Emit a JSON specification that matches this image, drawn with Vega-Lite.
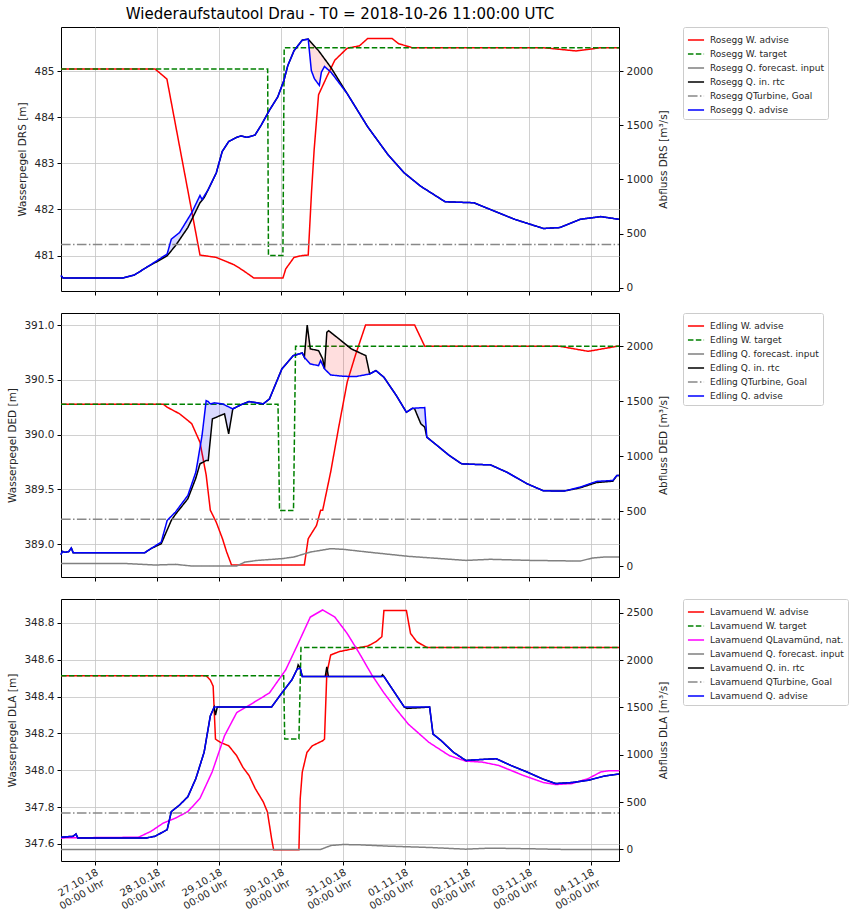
{
"$schema": "https://vega.github.io/schema/vega-lite/v6.json",
"background": "white",
"padding": {"left": 7, "top": 6, "right": 0, "bottom": 0},
"spacing": 16,
"resolve": {"scale": {"x": "independent", "color": "independent", "strokeDash": "independent"}},
"config": {
  "font": "DejaVu Sans",
  "view": {"stroke": "#000000", "strokeWidth": 1},
  "axis": {"domain": false, "tickColor": "#000000", "tickWidth": 1, "tickSize": 4, "gridColor": "#c4c4c4", "gridWidth": 0.8, "labelFont": "DejaVu Sans", "labelFontSize": 10.5, "labelColor": "#262626", "titleFont": "DejaVu Sans", "titleFontSize": 10.5, "titleFontWeight": "normal", "titleColor": "#262626", "labelPadding": 3, "titlePadding": 6, "labelOverlap": false},
  "legend": {"symbolType": "stroke", "symbolStrokeWidth": 1.5, "symbolSize": 260, "labelFont": "DejaVu Sans", "labelFontSize": 9, "labelColor": "#262626", "labelLimit": 300, "labelOffset": 5, "padding": 4, "rowPadding": -1, "strokeColor": "#cccccc", "fillColor": "#ffffff", "cornerRadius": 2, "offset": 13}
},
"datasets": {
"p1": [
{"t":"2018-10-26T11:00Z","s":"Wa","v":485.05},{"t":"2018-10-27T23:24Z","s":"Wa","v":485.05},{"t":"2018-10-28T04:00Z","s":"Wa","v":484.83},{"t":"2018-10-28T16:48Z","s":"Wa","v":481.01},{"t":"2018-10-28T23:00Z","s":"Wa","v":480.96},{"t":"2018-10-29T06:00Z","s":"Wa","v":480.8},{"t":"2018-10-29T09:24Z","s":"Wa","v":480.68},{"t":"2018-10-29T13:42Z","s":"Wa","v":480.51},{"t":"2018-10-30T00:54Z","s":"Wa","v":480.51},{"t":"2018-10-30T02:00Z","s":"Wa","v":480.71},{"t":"2018-10-30T05:12Z","s":"Wa","v":480.96},{"t":"2018-10-30T08:24Z","s":"Wa","v":481.0},{"t":"2018-10-30T10:42Z","s":"Wa","v":481.01},{"t":"2018-10-30T12:00Z","s":"Wa","v":482.4},{"t":"2018-10-30T13:00Z","s":"Wa","v":483.3},{"t":"2018-10-30T14:42Z","s":"Wa","v":484.49},{"t":"2018-10-30T17:54Z","s":"Wa","v":484.88},{"t":"2018-10-30T21:00Z","s":"Wa","v":485.24},{"t":"2018-10-31T01:48Z","s":"Wa","v":485.5},{"t":"2018-10-31T06:30Z","s":"Wa","v":485.55},{"t":"2018-10-31T09:42Z","s":"Wa","v":485.71},{"t":"2018-10-31T19:12Z","s":"Wa","v":485.71},{"t":"2018-10-31T21:36Z","s":"Wa","v":485.6},{"t":"2018-11-01T03:00Z","s":"Wa","v":485.51},{"t":"2018-11-03T05:48Z","s":"Wa","v":485.51},{"t":"2018-11-03T18:24Z","s":"Wa","v":485.44},{"t":"2018-11-04T03:54Z","s":"Wa","v":485.51},{"t":"2018-11-04T11:00Z","s":"Wa","v":485.51},
{"t":"2018-10-26T11:00Z","s":"Wt","v":485.05},{"t":"2018-10-29T19:00Z","s":"Wt","v":485.05},{"t":"2018-10-29T19:18Z","s":"Wt","v":481.0},{"t":"2018-10-30T00:54Z","s":"Wt","v":481.0},{"t":"2018-10-30T01:24Z","s":"Wt","v":485.51},{"t":"2018-11-04T11:00Z","s":"Wt","v":485.51},
{"t":"2018-10-26T11:00Z","s":"Qt","v":400},{"t":"2018-11-04T11:00Z","s":"Qt","v":400},
{"t":"2018-10-26T11:00Z","s":"Qr","v":113},{"t":"2018-10-26T11:48Z","s":"Qr","v":89},{"t":"2018-10-27T10:42Z","s":"Qr","v":89},{"t":"2018-10-27T15:30Z","s":"Qr","v":119},{"t":"2018-10-27T20:12Z","s":"Qr","v":190},{"t":"2018-10-28T00:12Z","s":"Qr","v":242},{"t":"2018-10-28T04:06Z","s":"Qr","v":296},{"t":"2018-10-28T07:18Z","s":"Qr","v":388},{"t":"2018-10-28T12:06Z","s":"Qr","v":556},{"t":"2018-10-28T16:48Z","s":"Qr","v":785},{"t":"2018-10-28T18:24Z","s":"Qr","v":831},{"t":"2018-10-28T20:00Z","s":"Qr","v":907},{"t":"2018-10-28T23:06Z","s":"Qr","v":1060},{"t":"2018-10-29T01:24Z","s":"Qr","v":1258},{"t":"2018-10-29T03:54Z","s":"Qr","v":1350},{"t":"2018-10-29T07:00Z","s":"Qr","v":1389},{"t":"2018-10-29T08:36Z","s":"Qr","v":1402},{"t":"2018-10-29T11:00Z","s":"Qr","v":1389},{"t":"2018-10-29T14:06Z","s":"Qr","v":1410},{"t":"2018-10-29T16:30Z","s":"Qr","v":1502},{"t":"2018-10-29T19:42Z","s":"Qr","v":1640},{"t":"2018-10-29T22:54Z","s":"Qr","v":1762},{"t":"2018-10-30T01:18Z","s":"Qr","v":1915},{"t":"2018-10-30T02:48Z","s":"Qr","v":2052},{"t":"2018-10-30T05:12Z","s":"Qr","v":2189},{"t":"2018-10-30T08:24Z","s":"Qr","v":2287},{"t":"2018-10-30T10:42Z","s":"Qr","v":2296},{"t":"2018-10-30T14:42Z","s":"Qr","v":2189},{"t":"2018-10-30T19:24Z","s":"Qr","v":2037},{"t":"2018-10-31T00:12Z","s":"Qr","v":1853},{"t":"2018-10-31T01:48Z","s":"Qr","v":1792},{"t":"2018-10-31T09:42Z","s":"Qr","v":1487},{"t":"2018-10-31T17:36Z","s":"Qr","v":1228},{"t":"2018-10-31T23:54Z","s":"Qr","v":1060},{"t":"2018-11-01T06:12Z","s":"Qr","v":938},{"t":"2018-11-01T15:42Z","s":"Qr","v":794},{"t":"2018-11-02T02:48Z","s":"Qr","v":785},{"t":"2018-11-02T09:06Z","s":"Qr","v":724},{"t":"2018-11-02T18:36Z","s":"Qr","v":632},{"t":"2018-11-03T05:48Z","s":"Qr","v":547},{"t":"2018-11-03T12:06Z","s":"Qr","v":556},{"t":"2018-11-03T20:00Z","s":"Qr","v":632},{"t":"2018-11-04T03:54Z","s":"Qr","v":657},{"t":"2018-11-04T11:00Z","s":"Qr","v":632},
{"t":"2018-10-26T11:00Z","s":"Qa","v":113},{"t":"2018-10-26T11:48Z","s":"Qa","v":89},{"t":"2018-10-27T10:42Z","s":"Qa","v":89},{"t":"2018-10-27T15:30Z","s":"Qa","v":119},{"t":"2018-10-27T20:12Z","s":"Qa","v":190},{"t":"2018-10-28T00:12Z","s":"Qa","v":251},{"t":"2018-10-28T04:06Z","s":"Qa","v":312},{"t":"2018-10-28T05:42Z","s":"Qa","v":449},{"t":"2018-10-28T08:54Z","s":"Qa","v":510},{"t":"2018-10-28T13:36Z","s":"Qa","v":693},{"t":"2018-10-28T16:48Z","s":"Qa","v":852},{"t":"2018-10-28T17:36Z","s":"Qa","v":815},{"t":"2018-10-28T20:00Z","s":"Qa","v":907},{"t":"2018-10-28T23:06Z","s":"Qa","v":1060},{"t":"2018-10-29T01:24Z","s":"Qa","v":1258},{"t":"2018-10-29T03:54Z","s":"Qa","v":1350},{"t":"2018-10-29T07:00Z","s":"Qa","v":1389},{"t":"2018-10-29T08:36Z","s":"Qa","v":1402},{"t":"2018-10-29T11:00Z","s":"Qa","v":1389},{"t":"2018-10-29T14:06Z","s":"Qa","v":1410},{"t":"2018-10-29T16:30Z","s":"Qa","v":1502},{"t":"2018-10-29T19:42Z","s":"Qa","v":1640},{"t":"2018-10-29T22:54Z","s":"Qa","v":1762},{"t":"2018-10-30T01:18Z","s":"Qa","v":1915},{"t":"2018-10-30T02:48Z","s":"Qa","v":2052},{"t":"2018-10-30T05:12Z","s":"Qa","v":2189},{"t":"2018-10-30T08:24Z","s":"Qa","v":2287},{"t":"2018-10-30T10:42Z","s":"Qa","v":2296},{"t":"2018-10-30T11:54Z","s":"Qa","v":2006},{"t":"2018-10-30T13:06Z","s":"Qa","v":1930},{"t":"2018-10-30T15:00Z","s":"Qa","v":1869},{"t":"2018-10-30T15:48Z","s":"Qa","v":1991},{"t":"2018-10-30T17:00Z","s":"Qa","v":2043},{"t":"2018-10-30T19:30Z","s":"Qa","v":1991},{"t":"2018-10-31T01:48Z","s":"Qa","v":1792},{"t":"2018-10-31T09:42Z","s":"Qa","v":1487},{"t":"2018-10-31T17:36Z","s":"Qa","v":1228},{"t":"2018-10-31T23:54Z","s":"Qa","v":1060},{"t":"2018-11-01T06:12Z","s":"Qa","v":938},{"t":"2018-11-01T15:42Z","s":"Qa","v":794},{"t":"2018-11-02T02:48Z","s":"Qa","v":785},{"t":"2018-11-02T09:06Z","s":"Qa","v":724},{"t":"2018-11-02T18:36Z","s":"Qa","v":632},{"t":"2018-11-03T05:48Z","s":"Qa","v":547},{"t":"2018-11-03T12:06Z","s":"Qa","v":556},{"t":"2018-11-03T20:00Z","s":"Qa","v":632},{"t":"2018-11-04T03:54Z","s":"Qa","v":657},{"t":"2018-11-04T11:00Z","s":"Qa","v":632}
],
"f1": [
{"k":"b","t":"2018-10-28T00:12Z","a":242,"b":251},{"k":"b","t":"2018-10-28T04:06Z","a":296,"b":312},{"k":"b","t":"2018-10-28T05:42Z","a":342,"b":449},{"k":"b","t":"2018-10-28T07:18Z","a":388,"b":480},{"k":"b","t":"2018-10-28T08:54Z","a":444,"b":510},{"k":"b","t":"2018-10-28T12:06Z","a":556,"b":635},{"k":"b","t":"2018-10-28T13:36Z","a":629,"b":693},{"k":"b","t":"2018-10-28T16:48Z","a":785,"b":852},{"k":"b","t":"2018-10-28T17:36Z","a":808,"b":815},{"k":"b","t":"2018-10-28T18:24Z","a":831,"b":846},{"k":"b","t":"2018-10-28T20:00Z","a":907,"b":907},
{"k":"p","t":"2018-10-30T10:42Z","a":2296,"b":2296},{"k":"p","t":"2018-10-30T11:54Z","a":2264,"b":2006},{"k":"p","t":"2018-10-30T13:06Z","a":2232,"b":1930},{"k":"p","t":"2018-10-30T14:42Z","a":2189,"b":1879},{"k":"p","t":"2018-10-30T15:00Z","a":2180,"b":1869},{"k":"p","t":"2018-10-30T15:48Z","a":2153,"b":1991},{"k":"p","t":"2018-10-30T17:00Z","a":2115,"b":2043},{"k":"p","t":"2018-10-30T19:24Z","a":2037,"b":1994},{"k":"p","t":"2018-10-30T22:00Z","a":1937,"b":1912},{"k":"p","t":"2018-10-31T00:12Z","a":1853,"b":1843},{"k":"p","t":"2018-10-31T01:48Z","a":1792,"b":1792}
],
"p2": [
{"t":"2018-10-26T11:00Z","s":"Wa","v":390.278},{"t":"2018-10-28T02:36Z","s":"Wa","v":390.278},{"t":"2018-10-28T04:06Z","s":"Wa","v":390.25},{"t":"2018-10-28T08:54Z","s":"Wa","v":390.19},{"t":"2018-10-28T13:36Z","s":"Wa","v":390.1},{"t":"2018-10-28T16:48Z","s":"Wa","v":389.93},{"t":"2018-10-28T19:12Z","s":"Wa","v":389.63},{"t":"2018-10-28T20:48Z","s":"Wa","v":389.31},{"t":"2018-10-28T23:06Z","s":"Wa","v":389.2},{"t":"2018-10-29T01:30Z","s":"Wa","v":389.05},{"t":"2018-10-29T03:06Z","s":"Wa","v":388.93},{"t":"2018-10-29T05:00Z","s":"Wa","v":388.81},{"t":"2018-10-30T09:12Z","s":"Wa","v":388.81},{"t":"2018-10-30T10:42Z","s":"Wa","v":389.05},{"t":"2018-10-30T13:54Z","s":"Wa","v":389.17},{"t":"2018-10-30T15:30Z","s":"Wa","v":389.31},{"t":"2018-10-30T16:18Z","s":"Wa","v":389.31},{"t":"2018-10-30T19:24Z","s":"Wa","v":389.66},{"t":"2018-10-30T22:36Z","s":"Wa","v":390.08},{"t":"2018-10-31T01:48Z","s":"Wa","v":390.48},{"t":"2018-10-31T04:54Z","s":"Wa","v":390.72},{"t":"2018-10-31T08:54Z","s":"Wa","v":391.0},{"t":"2018-11-01T03:54Z","s":"Wa","v":391.0},{"t":"2018-11-01T07:48Z","s":"Wa","v":390.806},{"t":"2018-11-03T12:06Z","s":"Wa","v":390.806},{"t":"2018-11-03T23:06Z","s":"Wa","v":390.76},{"t":"2018-11-04T10:12Z","s":"Wa","v":390.806},{"t":"2018-11-04T11:00Z","s":"Wa","v":390.806},
{"t":"2018-10-26T11:00Z","s":"Wt","v":390.278},{"t":"2018-10-29T23:00Z","s":"Wt","v":390.278},{"t":"2018-10-29T23:36Z","s":"Wt","v":389.307},{"t":"2018-10-30T05:00Z","s":"Wt","v":389.307},{"t":"2018-10-30T05:48Z","s":"Wt","v":390.806},{"t":"2018-11-04T11:00Z","s":"Wt","v":390.806},
{"t":"2018-10-26T11:00Z","s":"Qf","v":24},{"t":"2018-10-27T10:42Z","s":"Qf","v":24},{"t":"2018-10-27T23:24Z","s":"Qf","v":9},{"t":"2018-10-28T07:18Z","s":"Qf","v":15},{"t":"2018-10-28T13:36Z","s":"Qf","v":0},{"t":"2018-10-29T07:00Z","s":"Qf","v":0},{"t":"2018-10-29T10:12Z","s":"Qf","v":36},{"t":"2018-10-29T15:00Z","s":"Qf","v":51},{"t":"2018-10-30T00:30Z","s":"Qf","v":67},{"t":"2018-10-30T05:12Z","s":"Qf","v":82},{"t":"2018-10-30T11:30Z","s":"Qf","v":127},{"t":"2018-10-30T19:24Z","s":"Qf","v":158},{"t":"2018-10-31T00:12Z","s":"Qf","v":152},{"t":"2018-10-31T09:42Z","s":"Qf","v":127},{"t":"2018-11-01T01:30Z","s":"Qf","v":88},{"t":"2018-11-01T14:12Z","s":"Qf","v":67},{"t":"2018-11-01T23:42Z","s":"Qf","v":51},{"t":"2018-11-02T09:12Z","s":"Qf","v":61},{"t":"2018-11-03T01:00Z","s":"Qf","v":51},{"t":"2018-11-03T20:00Z","s":"Qf","v":45},{"t":"2018-11-04T00:42Z","s":"Qf","v":73},{"t":"2018-11-04T05:30Z","s":"Qf","v":82},{"t":"2018-11-04T11:00Z","s":"Qf","v":82},
{"t":"2018-10-26T11:00Z","s":"Qt","v":425},{"t":"2018-11-04T11:00Z","s":"Qt","v":425},
{"t":"2018-10-26T11:00Z","s":"Qr","v":103},{"t":"2018-10-26T11:30Z","s":"Qr","v":133},{"t":"2018-10-26T12:30Z","s":"Qr","v":125},{"t":"2018-10-26T14:00Z","s":"Qr","v":131},{"t":"2018-10-26T15:00Z","s":"Qr","v":164},{"t":"2018-10-26T15:42Z","s":"Qr","v":121},{"t":"2018-10-27T19:24Z","s":"Qr","v":121},{"t":"2018-10-27T21:48Z","s":"Qr","v":158},{"t":"2018-10-28T01:48Z","s":"Qr","v":203},{"t":"2018-10-28T05:42Z","s":"Qr","v":415},{"t":"2018-10-28T07:18Z","s":"Qr","v":470},{"t":"2018-10-28T12:06Z","s":"Qr","v":612},{"t":"2018-10-28T15:12Z","s":"Qr","v":800},{"t":"2018-10-28T16:48Z","s":"Qr","v":930},{"t":"2018-10-28T19:12Z","s":"Qr","v":961},{"t":"2018-10-28T20:00Z","s":"Qr","v":961},{"t":"2018-10-28T21:36Z","s":"Qr","v":1339},{"t":"2018-10-29T00:42Z","s":"Qr","v":1370},{"t":"2018-10-29T02:18Z","s":"Qr","v":1385},{"t":"2018-10-29T03:54Z","s":"Qr","v":1203},{"t":"2018-10-29T05:30Z","s":"Qr","v":1430},{"t":"2018-10-29T08:36Z","s":"Qr","v":1467},{"t":"2018-10-29T11:48Z","s":"Qr","v":1497},{"t":"2018-10-29T17:18Z","s":"Qr","v":1476},{"t":"2018-10-29T19:42Z","s":"Qr","v":1521},{"t":"2018-10-30T00:30Z","s":"Qr","v":1794},{"t":"2018-10-30T04:54Z","s":"Qr","v":1915},{"t":"2018-10-30T08:24Z","s":"Qr","v":1939},{"t":"2018-10-30T09:12Z","s":"Qr","v":1900},{"t":"2018-10-30T10:18Z","s":"Qr","v":2194},{"t":"2018-10-30T11:30Z","s":"Qr","v":1976},{"t":"2018-10-30T14:42Z","s":"Qr","v":1961},{"t":"2018-10-30T16:18Z","s":"Qr","v":1885},{"t":"2018-10-30T17:00Z","s":"Qr","v":1794},{"t":"2018-10-30T17:54Z","s":"Qr","v":2127},{"t":"2018-10-30T18:36Z","s":"Qr","v":2142},{"t":"2018-10-30T22:36Z","s":"Qr","v":2067},{"t":"2018-10-31T03:24Z","s":"Qr","v":1976},{"t":"2018-10-31T09:00Z","s":"Qr","v":1915},{"t":"2018-10-31T10:30Z","s":"Qr","v":1748},{"t":"2018-10-31T12:54Z","s":"Qr","v":1779},{"t":"2018-10-31T16:00Z","s":"Qr","v":1718},{"t":"2018-10-31T20:48Z","s":"Qr","v":1552},{"t":"2018-11-01T00:42Z","s":"Qr","v":1400},{"t":"2018-11-01T03:06Z","s":"Qr","v":1436},{"t":"2018-11-01T03:54Z","s":"Qr","v":1430},{"t":"2018-11-01T06:18Z","s":"Qr","v":1294},{"t":"2018-11-01T07:48Z","s":"Qr","v":1264},{"t":"2018-11-01T08:36Z","s":"Qr","v":1173},{"t":"2018-11-01T12:36Z","s":"Qr","v":1097},{"t":"2018-11-01T17:18Z","s":"Qr","v":1006},{"t":"2018-11-01T22:06Z","s":"Qr","v":930},{"t":"2018-11-02T04:24Z","s":"Qr","v":924},{"t":"2018-11-02T09:12Z","s":"Qr","v":921},{"t":"2018-11-02T15:30Z","s":"Qr","v":855},{"t":"2018-11-02T23:24Z","s":"Qr","v":749},{"t":"2018-11-03T05:42Z","s":"Qr","v":685},{"t":"2018-11-03T13:42Z","s":"Qr","v":682},{"t":"2018-11-03T20:00Z","s":"Qr","v":712},{"t":"2018-11-04T02:18Z","s":"Qr","v":760},{"t":"2018-11-04T08:36Z","s":"Qr","v":772},{"t":"2018-11-04T10:12Z","s":"Qr","v":824},{"t":"2018-11-04T11:00Z","s":"Qr","v":824},
{"t":"2018-10-26T11:00Z","s":"Qa","v":103},{"t":"2018-10-26T11:30Z","s":"Qa","v":133},{"t":"2018-10-26T12:30Z","s":"Qa","v":125},{"t":"2018-10-26T14:00Z","s":"Qa","v":131},{"t":"2018-10-26T15:00Z","s":"Qa","v":164},{"t":"2018-10-26T15:42Z","s":"Qa","v":121},{"t":"2018-10-27T19:24Z","s":"Qa","v":121},{"t":"2018-10-27T21:48Z","s":"Qa","v":158},{"t":"2018-10-28T01:48Z","s":"Qa","v":218},{"t":"2018-10-28T04:06Z","s":"Qa","v":415},{"t":"2018-10-28T07:18Z","s":"Qa","v":491},{"t":"2018-10-28T12:06Z","s":"Qa","v":642},{"t":"2018-10-28T15:12Z","s":"Qa","v":855},{"t":"2018-10-28T17:36Z","s":"Qa","v":1188},{"t":"2018-10-28T19:12Z","s":"Qa","v":1506},{"t":"2018-10-28T20:00Z","s":"Qa","v":1497},{"t":"2018-10-28T20:48Z","s":"Qa","v":1476},{"t":"2018-10-28T22:18Z","s":"Qa","v":1485},{"t":"2018-10-29T01:30Z","s":"Qa","v":1476},{"t":"2018-10-29T05:30Z","s":"Qa","v":1430},{"t":"2018-10-29T08:36Z","s":"Qa","v":1467},{"t":"2018-10-29T11:48Z","s":"Qa","v":1497},{"t":"2018-10-29T17:18Z","s":"Qa","v":1476},{"t":"2018-10-29T19:42Z","s":"Qa","v":1521},{"t":"2018-10-30T00:30Z","s":"Qa","v":1794},{"t":"2018-10-30T04:54Z","s":"Qa","v":1915},{"t":"2018-10-30T08:24Z","s":"Qa","v":1939},{"t":"2018-10-30T09:12Z","s":"Qa","v":1900},{"t":"2018-10-30T11:30Z","s":"Qa","v":1839},{"t":"2018-10-30T14:42Z","s":"Qa","v":1824},{"t":"2018-10-30T15:30Z","s":"Qa","v":1870},{"t":"2018-10-30T17:00Z","s":"Qa","v":1794},{"t":"2018-10-30T19:24Z","s":"Qa","v":1739},{"t":"2018-10-31T00:12Z","s":"Qa","v":1727},{"t":"2018-10-31T05:00Z","s":"Qa","v":1724},{"t":"2018-10-31T10:30Z","s":"Qa","v":1748},{"t":"2018-10-31T12:54Z","s":"Qa","v":1779},{"t":"2018-10-31T16:00Z","s":"Qa","v":1718},{"t":"2018-10-31T20:48Z","s":"Qa","v":1552},{"t":"2018-11-01T00:42Z","s":"Qa","v":1400},{"t":"2018-11-01T03:06Z","s":"Qa","v":1436},{"t":"2018-11-01T07:48Z","s":"Qa","v":1442},{"t":"2018-11-01T08:36Z","s":"Qa","v":1173},{"t":"2018-11-01T12:36Z","s":"Qa","v":1097},{"t":"2018-11-01T17:18Z","s":"Qa","v":1006},{"t":"2018-11-01T22:06Z","s":"Qa","v":930},{"t":"2018-11-02T04:24Z","s":"Qa","v":924},{"t":"2018-11-02T09:12Z","s":"Qa","v":921},{"t":"2018-11-02T15:30Z","s":"Qa","v":855},{"t":"2018-11-02T23:24Z","s":"Qa","v":749},{"t":"2018-11-03T05:42Z","s":"Qa","v":685},{"t":"2018-11-03T13:42Z","s":"Qa","v":682},{"t":"2018-11-03T20:00Z","s":"Qa","v":718},{"t":"2018-11-04T02:18Z","s":"Qa","v":770},{"t":"2018-11-04T08:36Z","s":"Qa","v":779},{"t":"2018-11-04T10:12Z","s":"Qa","v":824},{"t":"2018-11-04T11:00Z","s":"Qa","v":824}
],
"f2": [
{"k":"b","t":"2018-10-28T12:06Z","a":612,"b":642},{"k":"b","t":"2018-10-28T15:12Z","a":800,"b":855},{"k":"b","t":"2018-10-28T16:48Z","a":930,"b":1077},{"k":"b","t":"2018-10-28T17:36Z","a":945,"b":1188},{"k":"b","t":"2018-10-28T19:12Z","a":961,"b":1506},{"k":"b","t":"2018-10-28T20:00Z","a":961,"b":1497},{"k":"b","t":"2018-10-28T20:48Z","a":1150,"b":1476},{"k":"b","t":"2018-10-28T21:36Z","a":1339,"b":1480},{"k":"b","t":"2018-10-29T00:42Z","a":1370,"b":1478},{"k":"b","t":"2018-10-29T02:18Z","a":1385,"b":1467},{"k":"b","t":"2018-10-29T03:54Z","a":1203,"b":1448},{"k":"b","t":"2018-10-29T05:30Z","a":1430,"b":1430},
{"k":"c","t":"2018-11-01T03:06Z","a":1436,"b":1436},{"k":"c","t":"2018-11-01T03:54Z","a":1430,"b":1437},{"k":"c","t":"2018-11-01T06:18Z","a":1294,"b":1440},{"k":"c","t":"2018-11-01T07:48Z","a":1264,"b":1442},{"k":"c","t":"2018-11-01T08:36Z","a":1173,"b":1173},
{"k":"p","t":"2018-10-30T09:12Z","a":1900,"b":1900},{"k":"p","t":"2018-10-30T10:18Z","a":2194,"b":1871},{"k":"p","t":"2018-10-30T11:30Z","a":1976,"b":1839},{"k":"p","t":"2018-10-30T14:42Z","a":1961,"b":1824},{"k":"p","t":"2018-10-30T15:30Z","a":1923,"b":1870},{"k":"p","t":"2018-10-30T16:18Z","a":1885,"b":1829},{"k":"p","t":"2018-10-30T17:00Z","a":1794,"b":1794},{"k":"p","t":"2018-10-30T17:54Z","a":2127,"b":1773},{"k":"p","t":"2018-10-30T18:36Z","a":2142,"b":1757},{"k":"p","t":"2018-10-30T19:24Z","a":2127,"b":1739},{"k":"p","t":"2018-10-30T22:36Z","a":2067,"b":1731},{"k":"p","t":"2018-10-31T03:24Z","a":1976,"b":1725},{"k":"p","t":"2018-10-31T09:00Z","a":1915,"b":1741},{"k":"p","t":"2018-10-31T10:30Z","a":1748,"b":1748}
],
"p3": [
{"t":"2018-10-26T11:00Z","s":"Wa","v":348.513},{"t":"2018-10-28T19:12Z","s":"Wa","v":348.513},{"t":"2018-10-28T20:48Z","s":"Wa","v":348.49},{"t":"2018-10-28T21:54Z","s":"Wa","v":348.456},{"t":"2018-10-28T22:48Z","s":"Wa","v":348.169},{"t":"2018-10-29T00:42Z","s":"Wa","v":348.151},{"t":"2018-10-29T03:54Z","s":"Wa","v":348.133},{"t":"2018-10-29T07:00Z","s":"Wa","v":348.079},{"t":"2018-10-29T09:24Z","s":"Wa","v":348.016},{"t":"2018-10-29T11:48Z","s":"Wa","v":347.971},{"t":"2018-10-29T14:12Z","s":"Wa","v":347.9},{"t":"2018-10-29T17:18Z","s":"Wa","v":347.828},{"t":"2018-10-29T18:54Z","s":"Wa","v":347.774},{"t":"2018-10-29T20:30Z","s":"Wa","v":347.63},{"t":"2018-10-29T21:18Z","s":"Wa","v":347.568},{"t":"2018-10-30T07:06Z","s":"Wa","v":347.568},{"t":"2018-10-30T07:36Z","s":"Wa","v":347.846},{"t":"2018-10-30T08:24Z","s":"Wa","v":347.99},{"t":"2018-10-30T10:12Z","s":"Wa","v":348.097},{"t":"2018-10-30T12:18Z","s":"Wa","v":348.133},{"t":"2018-10-30T16:18Z","s":"Wa","v":348.16},{"t":"2018-10-30T17:00Z","s":"Wa","v":348.169},{"t":"2018-10-30T17:54Z","s":"Wa","v":348.527},{"t":"2018-10-30T19:24Z","s":"Wa","v":348.626},{"t":"2018-10-30T22:36Z","s":"Wa","v":348.644},{"t":"2018-10-31T04:54Z","s":"Wa","v":348.662},{"t":"2018-10-31T09:42Z","s":"Wa","v":348.674},{"t":"2018-10-31T12:54Z","s":"Wa","v":348.698},{"t":"2018-10-31T15:12Z","s":"Wa","v":348.725},{"t":"2018-10-31T16:00Z","s":"Wa","v":348.868},{"t":"2018-11-01T00:42Z","s":"Wa","v":348.868},{"t":"2018-11-01T02:18Z","s":"Wa","v":348.743},{"t":"2018-11-01T04:42Z","s":"Wa","v":348.698},{"t":"2018-11-01T08:36Z","s":"Wa","v":348.667},{"t":"2018-11-04T11:00Z","s":"Wa","v":348.667},
{"t":"2018-10-26T11:00Z","s":"Wt","v":348.513},{"t":"2018-10-30T01:12Z","s":"Wt","v":348.513},{"t":"2018-10-30T01:36Z","s":"Wt","v":348.169},{"t":"2018-10-30T07:06Z","s":"Wt","v":348.169},{"t":"2018-10-30T07:54Z","s":"Wt","v":348.667},{"t":"2018-11-04T11:00Z","s":"Wt","v":348.667},
{"t":"2018-10-26T11:00Z","s":"Qn","v":122},{"t":"2018-10-27T17:00Z","s":"Qn","v":129},{"t":"2018-10-27T21:48Z","s":"Qn","v":191},{"t":"2018-10-28T02:36Z","s":"Qn","v":279},{"t":"2018-10-28T07:18Z","s":"Qn","v":331},{"t":"2018-10-28T12:06Z","s":"Qn","v":400},{"t":"2018-10-28T16:48Z","s":"Qn","v":540},{"t":"2018-10-28T21:30Z","s":"Qn","v":818},{"t":"2018-10-29T02:18Z","s":"Qn","v":1201},{"t":"2018-10-29T07:00Z","s":"Qn","v":1445},{"t":"2018-10-29T13:24Z","s":"Qn","v":1549},{"t":"2018-10-29T19:42Z","s":"Qn","v":1654},{"t":"2018-10-30T02:00Z","s":"Qn","v":1898},{"t":"2018-10-30T06:48Z","s":"Qn","v":2176},{"t":"2018-10-30T11:30Z","s":"Qn","v":2455},{"t":"2018-10-30T16:18Z","s":"Qn","v":2531},{"t":"2018-10-30T21:00Z","s":"Qn","v":2455},{"t":"2018-10-31T01:48Z","s":"Qn","v":2281},{"t":"2018-10-31T06:30Z","s":"Qn","v":2072},{"t":"2018-10-31T11:18Z","s":"Qn","v":1845},{"t":"2018-10-31T16:00Z","s":"Qn","v":1654},{"t":"2018-10-31T20:48Z","s":"Qn","v":1480},{"t":"2018-11-01T01:30Z","s":"Qn","v":1323},{"t":"2018-11-01T09:24Z","s":"Qn","v":1132},{"t":"2018-11-01T17:18Z","s":"Qn","v":992},{"t":"2018-11-01T23:42Z","s":"Qn","v":933},{"t":"2018-11-02T06:00Z","s":"Qn","v":923},{"t":"2018-11-02T12:24Z","s":"Qn","v":888},{"t":"2018-11-02T21:54Z","s":"Qn","v":783},{"t":"2018-11-03T05:42Z","s":"Qn","v":707},{"t":"2018-11-03T10:30Z","s":"Qn","v":686},{"t":"2018-11-03T16:48Z","s":"Qn","v":696},{"t":"2018-11-03T23:06Z","s":"Qn","v":749},{"t":"2018-11-04T03:54Z","s":"Qn","v":818},{"t":"2018-11-04T07:00Z","s":"Qn","v":832},{"t":"2018-11-04T11:00Z","s":"Qn","v":832},
{"t":"2018-10-26T11:00Z","s":"Qf","v":0},{"t":"2018-10-30T15:30Z","s":"Qf","v":0},{"t":"2018-10-30T19:30Z","s":"Qf","v":42},{"t":"2018-10-31T00:12Z","s":"Qf","v":52},{"t":"2018-10-31T06:30Z","s":"Qf","v":49},{"t":"2018-10-31T17:36Z","s":"Qf","v":35},{"t":"2018-11-01T09:24Z","s":"Qf","v":21},{"t":"2018-11-01T23:42Z","s":"Qf","v":3},{"t":"2018-11-02T09:12Z","s":"Qf","v":14},{"t":"2018-11-03T01:00Z","s":"Qf","v":7},{"t":"2018-11-03T13:42Z","s":"Qf","v":0},{"t":"2018-11-04T11:00Z","s":"Qf","v":0},
{"t":"2018-10-26T11:00Z","s":"Qt","v":385},{"t":"2018-11-04T11:00Z","s":"Qt","v":385},
{"t":"2018-10-26T11:00Z","s":"Qr","v":129},{"t":"2018-10-26T15:42Z","s":"Qr","v":139},{"t":"2018-10-26T16:48Z","s":"Qr","v":164},{"t":"2018-10-26T17:30Z","s":"Qr","v":122},{"t":"2018-10-27T20:12Z","s":"Qr","v":122},{"t":"2018-10-27T23:24Z","s":"Qr","v":139},{"t":"2018-10-28T04:06Z","s":"Qr","v":209},{"t":"2018-10-28T05:42Z","s":"Qr","v":400},{"t":"2018-10-28T08:54Z","s":"Qr","v":470},{"t":"2018-10-28T12:06Z","s":"Qr","v":557},{"t":"2018-10-28T15:12Z","s":"Qr","v":749},{"t":"2018-10-28T18:24Z","s":"Qr","v":1027},{"t":"2018-10-28T20:48Z","s":"Qr","v":1410},{"t":"2018-10-28T22:18Z","s":"Qr","v":1504},{"t":"2018-10-28T22:48Z","s":"Qr","v":1420},{"t":"2018-10-28T23:30Z","s":"Qr","v":1504},{"t":"2018-10-29T20:30Z","s":"Qr","v":1504},{"t":"2018-10-30T00:30Z","s":"Qr","v":1654},{"t":"2018-10-30T04:24Z","s":"Qr","v":1793},{"t":"2018-10-30T06:24Z","s":"Qr","v":1905},{"t":"2018-10-30T06:48Z","s":"Qr","v":1950},{"t":"2018-10-30T07:36Z","s":"Qr","v":1915},{"t":"2018-10-30T08:24Z","s":"Qr","v":1828},{"t":"2018-10-30T17:18Z","s":"Qr","v":1828},{"t":"2018-10-30T17:54Z","s":"Qr","v":1930},{"t":"2018-10-30T18:30Z","s":"Qr","v":1828},{"t":"2018-10-31T15:00Z","s":"Qr","v":1828},{"t":"2018-10-31T15:30Z","s":"Qr","v":1845},{"t":"2018-10-31T16:00Z","s":"Qr","v":1828},{"t":"2018-10-31T23:54Z","s":"Qr","v":1504},{"t":"2018-11-01T01:00Z","s":"Qr","v":1490},{"t":"2018-11-01T09:42Z","s":"Qr","v":1504},{"t":"2018-11-01T11:00Z","s":"Qr","v":1219},{"t":"2018-11-01T14:12Z","s":"Qr","v":1149},{"t":"2018-11-01T18:54Z","s":"Qr","v":1027},{"t":"2018-11-01T23:42Z","s":"Qr","v":940},{"t":"2018-11-02T06:00Z","s":"Qr","v":951},{"t":"2018-11-02T11:30Z","s":"Qr","v":958},{"t":"2018-11-02T17:06Z","s":"Qr","v":888},{"t":"2018-11-02T23:24Z","s":"Qr","v":818},{"t":"2018-11-03T05:42Z","s":"Qr","v":742},{"t":"2018-11-03T10:30Z","s":"Qr","v":696},{"t":"2018-11-03T16:48Z","s":"Qr","v":707},{"t":"2018-11-03T23:06Z","s":"Qr","v":731},{"t":"2018-11-04T05:24Z","s":"Qr","v":776},{"t":"2018-11-04T11:00Z","s":"Qr","v":797},
{"t":"2018-10-26T11:00Z","s":"Qa","v":129},{"t":"2018-10-26T15:42Z","s":"Qa","v":139},{"t":"2018-10-26T16:48Z","s":"Qa","v":164},{"t":"2018-10-26T17:30Z","s":"Qa","v":122},{"t":"2018-10-27T20:12Z","s":"Qa","v":122},{"t":"2018-10-27T23:24Z","s":"Qa","v":139},{"t":"2018-10-28T04:06Z","s":"Qa","v":209},{"t":"2018-10-28T05:42Z","s":"Qa","v":400},{"t":"2018-10-28T08:54Z","s":"Qa","v":470},{"t":"2018-10-28T12:06Z","s":"Qa","v":557},{"t":"2018-10-28T15:12Z","s":"Qa","v":749},{"t":"2018-10-28T18:24Z","s":"Qa","v":1027},{"t":"2018-10-28T20:48Z","s":"Qa","v":1410},{"t":"2018-10-28T22:18Z","s":"Qa","v":1504},{"t":"2018-10-29T20:30Z","s":"Qa","v":1504},{"t":"2018-10-30T00:30Z","s":"Qa","v":1654},{"t":"2018-10-30T04:24Z","s":"Qa","v":1793},{"t":"2018-10-30T06:24Z","s":"Qa","v":1905},{"t":"2018-10-30T07:36Z","s":"Qa","v":1915},{"t":"2018-10-30T08:24Z","s":"Qa","v":1828},{"t":"2018-10-31T16:00Z","s":"Qa","v":1828},{"t":"2018-10-31T23:54Z","s":"Qa","v":1504},{"t":"2018-11-01T09:42Z","s":"Qa","v":1504},{"t":"2018-11-01T11:00Z","s":"Qa","v":1219},{"t":"2018-11-01T14:12Z","s":"Qa","v":1149},{"t":"2018-11-01T18:54Z","s":"Qa","v":1027},{"t":"2018-11-01T23:42Z","s":"Qa","v":940},{"t":"2018-11-02T06:00Z","s":"Qa","v":951},{"t":"2018-11-02T11:30Z","s":"Qa","v":958},{"t":"2018-11-02T17:06Z","s":"Qa","v":888},{"t":"2018-11-02T23:24Z","s":"Qa","v":818},{"t":"2018-11-03T05:42Z","s":"Qa","v":742},{"t":"2018-11-03T10:30Z","s":"Qa","v":696},{"t":"2018-11-03T16:48Z","s":"Qa","v":707},{"t":"2018-11-03T23:06Z","s":"Qa","v":731},{"t":"2018-11-04T05:24Z","s":"Qa","v":776},{"t":"2018-11-04T11:00Z","s":"Qa","v":797}
]
},
"vconcat": [
{
 "width": 558, "height": 264,
 "title": {"text": "Wiederaufstautool Drau - T0 = 2018-10-26 11:00:00 UTC", "fontSize": 15, "fontWeight": "normal", "font": "DejaVu Sans", "color": "#000000", "anchor": "middle", "frame": "group", "offset": 5},
 "resolve": {"scale": {"y": "independent"}},
 "layer": [
  {
   "data": {"name": "p1"},
   "encoding": {
    "x": {"field": "t", "type": "temporal", "scale": {"type": "utc", "nice": false, "domain": [{"year": 2018, "month": 10, "date": 26, "hours": 11, "utc": true}, {"year": 2018, "month": 11, "date": 4, "hours": 11, "utc": true}]}, "axis": {"title": null, "labels": false, "grid": true, "values": [{"year":2018,"month":10,"date":27,"utc":true},{"year":2018,"month":10,"date":28,"utc":true},{"year":2018,"month":10,"date":29,"utc":true},{"year":2018,"month":10,"date":30,"utc":true},{"year":2018,"month":10,"date":31,"utc":true},{"year":2018,"month":11,"date":1,"utc":true},{"year":2018,"month":11,"date":2,"utc":true},{"year":2018,"month":11,"date":3,"utc":true},{"year":2018,"month":11,"date":4,"utc":true}]}},
    "y": {"field": "v", "type": "quantitative", "scale": {"domain": [480.23, 485.96], "nice": false, "zero": false}, "axis": {"title": "Wasserpegel DRS [m]", "grid": true, "values": [481,482,483,484,485], "format": ".0f"}},
    "color": {"field": "s", "type": "nominal", "scale": {"domain": ["Wa","Wt","Qf","Qr","Qt","Qa"], "range": ["#ff0000","#008000","#808080","#000000","#888888","#0000ff"]}, "legend": {"title": null, "labelExpr": "'Rosegg ' + (datum.label=='Wa'?'W. advise':datum.label=='Wt'?'W. target':datum.label=='Qn'?'QLavamünd, nat.':datum.label=='Qf'?'Q. forecast. input':datum.label=='Qr'?'Q. in. rtc':datum.label=='Qt'?'QTurbine, Goal':'Q. advise')"}},
    "strokeDash": {"field": "s", "type": "nominal", "scale": {"domain": ["Wa","Wt","Qf","Qr","Qt","Qa"], "range": [[1,0],[5.5,2.4],[1,0],[1,0],[9.6,2.4,1.5,2.4],[1,0]]}, "legend": {"title": null, "labelExpr": "'Rosegg ' + (datum.label=='Wa'?'W. advise':datum.label=='Wt'?'W. target':datum.label=='Qn'?'QLavamünd, nat.':datum.label=='Qf'?'Q. forecast. input':datum.label=='Qr'?'Q. in. rtc':datum.label=='Qt'?'QTurbine, Goal':'Q. advise')"}}
   },
   "layer": [
    {"transform": [{"filter": "datum.s=='Wa'"}], "mark": {"type": "line", "strokeWidth": 1.5}},
    {"transform": [{"filter": "datum.s=='Wt'"}], "mark": {"type": "line", "strokeWidth": 1.5}}
   ]
  },
  {
   "layer": [
    {"data": {"name": "f1"}, "transform": [{"filter": "datum.k=='b'"}], "mark": {"type": "area", "color": "#0000ff", "fillOpacity": 0.15},
     "encoding": {"x": {"field": "t", "type": "temporal"}, "y": {"field": "a", "type": "quantitative", "scale": {"domain": [-30, 2408], "nice": false, "zero": false}}, "y2": {"field": "b"}}},
    {"data": {"name": "f1"}, "transform": [{"filter": "datum.k=='p'"}], "mark": {"type": "area", "color": "#ff0000", "fillOpacity": 0.13},
     "encoding": {"x": {"field": "t", "type": "temporal"}, "y": {"field": "a", "type": "quantitative", "scale": {"domain": [-30, 2408], "nice": false, "zero": false}}, "y2": {"field": "b"}}},
    {
     "data": {"name": "p1"},
     "encoding": {
      "x": {"field": "t", "type": "temporal"},
      "y": {"field": "v", "type": "quantitative", "scale": {"domain": [-30, 2408], "nice": false, "zero": false}, "axis": {"orient": "right", "title": "Abfluss DRS [m³/s]", "values": [0,500,1000,1500,2000], "format": "d", "grid": false, "titleAngle": 270, "titleBaseline": "top"}},
      "color": {"field": "s", "type": "nominal", "scale": {"domain": ["Wa","Wt","Qf","Qr","Qt","Qa"], "range": ["#ff0000","#008000","#808080","#000000","#888888","#0000ff"]}, "legend": {"title": null, "labelExpr": "'Rosegg ' + (datum.label=='Wa'?'W. advise':datum.label=='Wt'?'W. target':datum.label=='Qn'?'QLavamünd, nat.':datum.label=='Qf'?'Q. forecast. input':datum.label=='Qr'?'Q. in. rtc':datum.label=='Qt'?'QTurbine, Goal':'Q. advise')"}},
      "strokeDash": {"field": "s", "type": "nominal", "scale": {"domain": ["Wa","Wt","Qf","Qr","Qt","Qa"], "range": [[1,0],[5.5,2.4],[1,0],[1,0],[9.6,2.4,1.5,2.4],[1,0]]}, "legend": {"title": null, "labelExpr": "'Rosegg ' + (datum.label=='Wa'?'W. advise':datum.label=='Wt'?'W. target':datum.label=='Qn'?'QLavamünd, nat.':datum.label=='Qf'?'Q. forecast. input':datum.label=='Qr'?'Q. in. rtc':datum.label=='Qt'?'QTurbine, Goal':'Q. advise')"}}
     },
     "layer": [
      {"transform": [{"filter": "datum.s=='Qr'"}], "mark": {"type": "line", "strokeWidth": 1.5}},
      {"transform": [{"filter": "datum.s=='Qt'"}], "mark": {"type": "line", "strokeWidth": 1.5}},
      {"transform": [{"filter": "datum.s=='Qa'"}], "mark": {"type": "line", "strokeWidth": 1.5}}
     ]
    }
   ]
  }
 ]
},
{
 "width": 558, "height": 264,
 "resolve": {"scale": {"y": "independent"}},
 "layer": [
  {
   "data": {"name": "p2"},
   "encoding": {
    "x": {"field": "t", "type": "temporal", "scale": {"type": "utc", "nice": false, "domain": [{"year": 2018, "month": 10, "date": 26, "hours": 11, "utc": true}, {"year": 2018, "month": 11, "date": 4, "hours": 11, "utc": true}]}, "axis": {"title": null, "labels": false, "grid": true, "values": [{"year":2018,"month":10,"date":27,"utc":true},{"year":2018,"month":10,"date":28,"utc":true},{"year":2018,"month":10,"date":29,"utc":true},{"year":2018,"month":10,"date":30,"utc":true},{"year":2018,"month":10,"date":31,"utc":true},{"year":2018,"month":11,"date":1,"utc":true},{"year":2018,"month":11,"date":2,"utc":true},{"year":2018,"month":11,"date":3,"utc":true},{"year":2018,"month":11,"date":4,"utc":true}]}},
    "y": {"field": "v", "type": "quantitative", "scale": {"domain": [388.70, 391.11], "nice": false, "zero": false}, "axis": {"title": "Wasserpegel DED [m]", "grid": true, "values": [389.0,389.5,390.0,390.5,391.0], "format": ".1f"}},
    "color": {"field": "s", "type": "nominal", "scale": {"domain": ["Wa","Wt","Qf","Qr","Qt","Qa"], "range": ["#ff0000","#008000","#808080","#000000","#888888","#0000ff"]}, "legend": {"title": null, "labelExpr": "'Edling ' + (datum.label=='Wa'?'W. advise':datum.label=='Wt'?'W. target':datum.label=='Qn'?'QLavamünd, nat.':datum.label=='Qf'?'Q. forecast. input':datum.label=='Qr'?'Q. in. rtc':datum.label=='Qt'?'QTurbine, Goal':'Q. advise')"}},
    "strokeDash": {"field": "s", "type": "nominal", "scale": {"domain": ["Wa","Wt","Qf","Qr","Qt","Qa"], "range": [[1,0],[5.5,2.4],[1,0],[1,0],[9.6,2.4,1.5,2.4],[1,0]]}, "legend": {"title": null, "labelExpr": "'Edling ' + (datum.label=='Wa'?'W. advise':datum.label=='Wt'?'W. target':datum.label=='Qn'?'QLavamünd, nat.':datum.label=='Qf'?'Q. forecast. input':datum.label=='Qr'?'Q. in. rtc':datum.label=='Qt'?'QTurbine, Goal':'Q. advise')"}}
   },
   "layer": [
    {"transform": [{"filter": "datum.s=='Wa'"}], "mark": {"type": "line", "strokeWidth": 1.5}},
    {"transform": [{"filter": "datum.s=='Wt'"}], "mark": {"type": "line", "strokeWidth": 1.5}}
   ]
  },
  {
   "layer": [
    {"data": {"name": "f2"}, "transform": [{"filter": "datum.k=='b'"}], "mark": {"type": "area", "color": "#0000ff", "fillOpacity": 0.15},
     "encoding": {"x": {"field": "t", "type": "temporal"}, "y": {"field": "a", "type": "quantitative", "scale": {"domain": [-100, 2303], "nice": false, "zero": false}}, "y2": {"field": "b"}}},
    {"data": {"name": "f2"}, "transform": [{"filter": "datum.k=='c'"}], "mark": {"type": "area", "color": "#0000ff", "fillOpacity": 0.15},
     "encoding": {"x": {"field": "t", "type": "temporal"}, "y": {"field": "a", "type": "quantitative", "scale": {"domain": [-100, 2303], "nice": false, "zero": false}}, "y2": {"field": "b"}}},
    {"data": {"name": "f2"}, "transform": [{"filter": "datum.k=='p'"}], "mark": {"type": "area", "color": "#ff0000", "fillOpacity": 0.13},
     "encoding": {"x": {"field": "t", "type": "temporal"}, "y": {"field": "a", "type": "quantitative", "scale": {"domain": [-100, 2303], "nice": false, "zero": false}}, "y2": {"field": "b"}}},
    {
     "data": {"name": "p2"},
     "encoding": {
      "x": {"field": "t", "type": "temporal"},
      "y": {"field": "v", "type": "quantitative", "scale": {"domain": [-100, 2303], "nice": false, "zero": false}, "axis": {"orient": "right", "title": "Abfluss DED [m³/s]", "values": [0,500,1000,1500,2000], "format": "d", "grid": false, "titleAngle": 270, "titleBaseline": "top"}},
      "color": {"field": "s", "type": "nominal", "scale": {"domain": ["Wa","Wt","Qf","Qr","Qt","Qa"], "range": ["#ff0000","#008000","#808080","#000000","#888888","#0000ff"]}, "legend": {"title": null, "labelExpr": "'Edling ' + (datum.label=='Wa'?'W. advise':datum.label=='Wt'?'W. target':datum.label=='Qn'?'QLavamünd, nat.':datum.label=='Qf'?'Q. forecast. input':datum.label=='Qr'?'Q. in. rtc':datum.label=='Qt'?'QTurbine, Goal':'Q. advise')"}},
      "strokeDash": {"field": "s", "type": "nominal", "scale": {"domain": ["Wa","Wt","Qf","Qr","Qt","Qa"], "range": [[1,0],[5.5,2.4],[1,0],[1,0],[9.6,2.4,1.5,2.4],[1,0]]}, "legend": {"title": null, "labelExpr": "'Edling ' + (datum.label=='Wa'?'W. advise':datum.label=='Wt'?'W. target':datum.label=='Qn'?'QLavamünd, nat.':datum.label=='Qf'?'Q. forecast. input':datum.label=='Qr'?'Q. in. rtc':datum.label=='Qt'?'QTurbine, Goal':'Q. advise')"}}
     },
     "layer": [
      {"transform": [{"filter": "datum.s=='Qf'"}], "mark": {"type": "line", "strokeWidth": 1.5}},
      {"transform": [{"filter": "datum.s=='Qr'"}], "mark": {"type": "line", "strokeWidth": 1.5}},
      {"transform": [{"filter": "datum.s=='Qt'"}], "mark": {"type": "line", "strokeWidth": 1.5}},
      {"transform": [{"filter": "datum.s=='Qa'"}], "mark": {"type": "line", "strokeWidth": 1.5}}
     ]
    }
   ]
  }
 ]
},
{
 "width": 558, "height": 262,
 "resolve": {"scale": {"y": "independent"}},
 "layer": [
  {
   "data": {"name": "p3"},
   "encoding": {
    "x": {"field": "t", "type": "temporal", "scale": {"type": "utc", "nice": false, "domain": [{"year": 2018, "month": 10, "date": 26, "hours": 11, "utc": true}, {"year": 2018, "month": 11, "date": 4, "hours": 11, "utc": true}]}, "axis": {"title": null, "grid": true, "values": [{"year":2018,"month":10,"date":27,"utc":true},{"year":2018,"month":10,"date":28,"utc":true},{"year":2018,"month":10,"date":29,"utc":true},{"year":2018,"month":10,"date":30,"utc":true},{"year":2018,"month":10,"date":31,"utc":true},{"year":2018,"month":11,"date":1,"utc":true},{"year":2018,"month":11,"date":2,"utc":true},{"year":2018,"month":11,"date":3,"utc":true},{"year":2018,"month":11,"date":4,"utc":true}], "labelExpr": "[utcFormat(datum.value,'%d.%m.%y'), utcFormat(datum.value,'%H:%M Uhr')]", "labelAngle": -30, "labelAlign": "right", "labelBaseline": "top", "labelFontSize": 10, "labelPadding": 2, "labelFlush": false, "labelBound": false}},
    "y": {"field": "v", "type": "quantitative", "scale": {"domain": [347.507, 348.93], "nice": false, "zero": false}, "axis": {"title": "Wasserpegel DLA [m]", "grid": true, "values": [347.6,347.8,348.0,348.2,348.4,348.6,348.8], "format": ".1f"}},
    "color": {"field": "s", "type": "nominal", "scale": {"domain": ["Wa","Wt","Qn","Qf","Qr","Qt","Qa"], "range": ["#ff0000","#008000","#ff00ff","#808080","#000000","#888888","#0000ff"]}, "legend": {"title": null, "labelExpr": "'Lavamuend ' + (datum.label=='Wa'?'W. advise':datum.label=='Wt'?'W. target':datum.label=='Qn'?'QLavamünd, nat.':datum.label=='Qf'?'Q. forecast. input':datum.label=='Qr'?'Q. in. rtc':datum.label=='Qt'?'QTurbine, Goal':'Q. advise')"}},
    "strokeDash": {"field": "s", "type": "nominal", "scale": {"domain": ["Wa","Wt","Qn","Qf","Qr","Qt","Qa"], "range": [[1,0],[5.5,2.4],[1,0],[1,0],[1,0],[9.6,2.4,1.5,2.4],[1,0]]}, "legend": {"title": null, "labelExpr": "'Lavamuend ' + (datum.label=='Wa'?'W. advise':datum.label=='Wt'?'W. target':datum.label=='Qn'?'QLavamünd, nat.':datum.label=='Qf'?'Q. forecast. input':datum.label=='Qr'?'Q. in. rtc':datum.label=='Qt'?'QTurbine, Goal':'Q. advise')"}}
   },
   "layer": [
    {"transform": [{"filter": "datum.s=='Wa'"}], "mark": {"type": "line", "strokeWidth": 1.5}},
    {"transform": [{"filter": "datum.s=='Wt'"}], "mark": {"type": "line", "strokeWidth": 1.5}}
   ]
  },
  {
   "data": {"name": "p3"},
   "encoding": {
    "x": {"field": "t", "type": "temporal"},
    "y": {"field": "v", "type": "quantitative", "scale": {"domain": [-122, 2646], "nice": false, "zero": false}, "axis": {"orient": "right", "title": "Abfluss DLA [m³/s]", "values": [0,500,1000,1500,2000,2500], "format": "d", "grid": false, "titleAngle": 270, "titleBaseline": "top"}},
    "color": {"field": "s", "type": "nominal", "scale": {"domain": ["Wa","Wt","Qn","Qf","Qr","Qt","Qa"], "range": ["#ff0000","#008000","#ff00ff","#808080","#000000","#888888","#0000ff"]}, "legend": {"title": null, "labelExpr": "'Lavamuend ' + (datum.label=='Wa'?'W. advise':datum.label=='Wt'?'W. target':datum.label=='Qn'?'QLavamünd, nat.':datum.label=='Qf'?'Q. forecast. input':datum.label=='Qr'?'Q. in. rtc':datum.label=='Qt'?'QTurbine, Goal':'Q. advise')"}},
    "strokeDash": {"field": "s", "type": "nominal", "scale": {"domain": ["Wa","Wt","Qn","Qf","Qr","Qt","Qa"], "range": [[1,0],[5.5,2.4],[1,0],[1,0],[1,0],[9.6,2.4,1.5,2.4],[1,0]]}, "legend": {"title": null, "labelExpr": "'Lavamuend ' + (datum.label=='Wa'?'W. advise':datum.label=='Wt'?'W. target':datum.label=='Qn'?'QLavamünd, nat.':datum.label=='Qf'?'Q. forecast. input':datum.label=='Qr'?'Q. in. rtc':datum.label=='Qt'?'QTurbine, Goal':'Q. advise')"}}
   },
   "layer": [
    {"transform": [{"filter": "datum.s=='Qn'"}], "mark": {"type": "line", "strokeWidth": 1.5}},
    {"transform": [{"filter": "datum.s=='Qf'"}], "mark": {"type": "line", "strokeWidth": 1.5}},
    {"transform": [{"filter": "datum.s=='Qr'"}], "mark": {"type": "line", "strokeWidth": 1.5}},
    {"transform": [{"filter": "datum.s=='Qt'"}], "mark": {"type": "line", "strokeWidth": 1.5}},
    {"transform": [{"filter": "datum.s=='Qa'"}], "mark": {"type": "line", "strokeWidth": 1.5}}
   ]
  }
 ]
}
]
}
